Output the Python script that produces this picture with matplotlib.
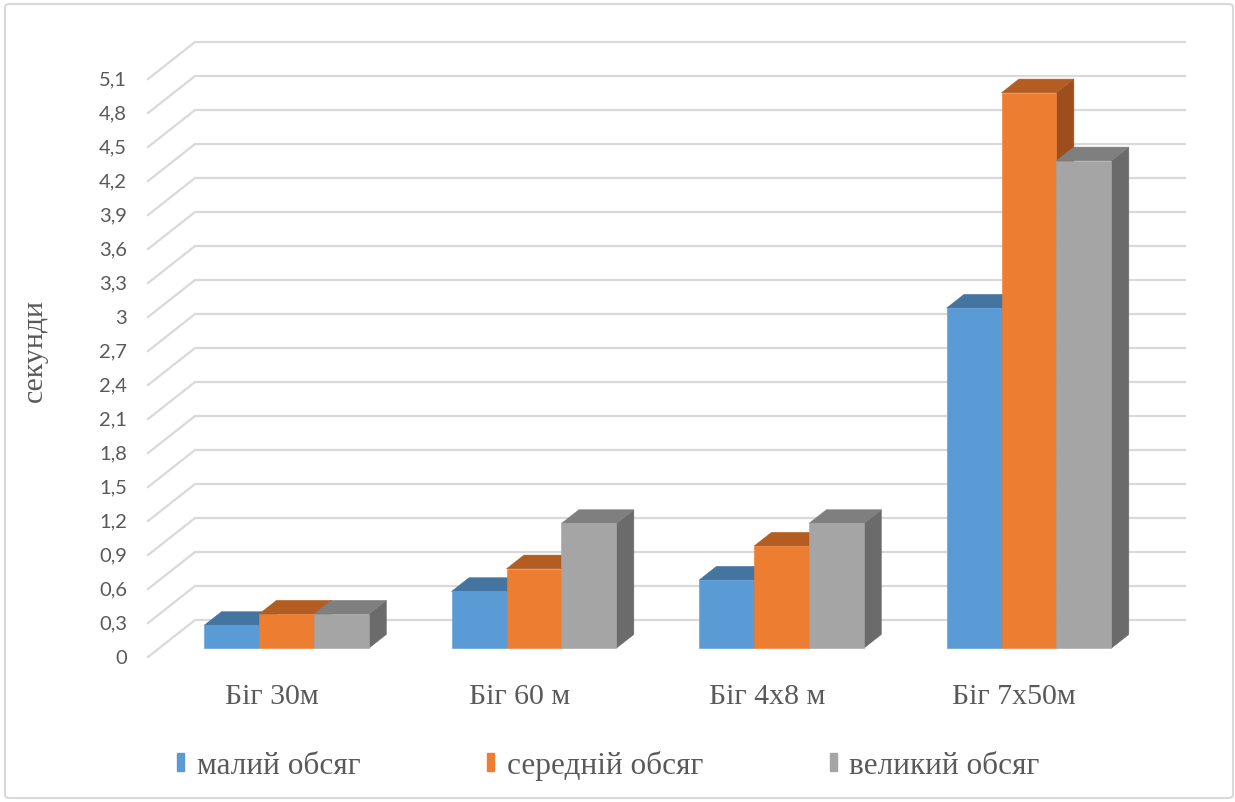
import numpy as np
import matplotlib.pyplot as plt
from matplotlib.patches import Polygon, FancyBboxPatch, Patch

categories = ["Біг 30м", "Біг 60 м", "Біг 4х8 м", "Біг 7х50м"]
series_names = ["малий обсяг", "середній обсяг", "великий обсяг"]
small = [0.2, 0.5, 0.6, 3.0]
medium = [0.3, 0.7, 0.9, 4.9]
large = [0.3, 1.1, 1.1, 4.3]
ticks = np.round(np.arange(0, 5.11, 0.3), 1)

# front / top / side shades for each series
front_colors = ["#5B9BD5", "#ED7D31", "#A5A5A5"]
top_colors = ["#4474A0", "#B45D22", "#7F7F7F"]
side_colors = ["#3A6690", "#9C4F1C", "#6B6B6B"]

TEXT = "#595959"
GRID = "#D9D9D9"
SERIF = "Liberation Serif"

# oblique depth offset (full depth) in data units
DX, DY = 0.19, 0.3265
Z0, Z1 = 0.24, 0.61
BAR_W = 0.222
BAR_SHIFT = 0.014


def proj(x, y, z):
    return x + z * DX, y + z * DY


def main() -> None:
    fig = plt.figure(figsize=(12.35, 8.03), dpi=100)
    ax = fig.add_axes([0, 0, 1, 1])
    ax.set_xlim(-1.098, 3.892)
    ax.set_ylim(-1.2794, 5.806)
    ax.axis("off")

    # walls: side diagonals and back gridlines
    left, right = -0.5, len(categories) - 0.5
    for t in ticks:
        x0, y0 = proj(left, t, 0)
        x1, y1 = proj(left, t, 1)
        x2, y2 = proj(right, t, 1)
        ax.plot([x0, x1, x2], [y0, y1, y2], color=GRID, lw=1.6, zorder=1,
                solid_joinstyle="miter")
        ax.text(left - 0.085, t, f"{t:g}".replace(".", ","), ha="right",
                va="center", fontsize=14.5, family="Lato", color=TEXT)

    values = [small, medium, large]
    for i in range(len(categories)):
        for j, vals in enumerate(values):
            v = vals[i]
            xa = i - 1.5 * BAR_W + j * BAR_W + BAR_SHIFT
            xb = xa + BAR_W
            front = [proj(xa, 0, Z0), proj(xb, 0, Z0), proj(xb, v, Z0), proj(xa, v, Z0)]
            top = [proj(xa, v, Z0), proj(xb, v, Z0), proj(xb, v, Z1), proj(xa, v, Z1)]
            side = [proj(xb, 0, Z0), proj(xb, 0, Z1), proj(xb, v, Z1), proj(xb, v, Z0)]
            for pts, c in ((side, side_colors[j]), (top, top_colors[j]),
                           (front, front_colors[j])):
                ax.add_patch(Polygon(pts, closed=True, facecolor=c, edgecolor=c,
                                     lw=0.4, zorder=3))

    for i, cat in enumerate(categories):
        ax.text(i, -0.34, cat, ha="center", va="center", fontsize=21.5,
                family=SERIF, color=TEXT)

    fig.text(0.028, 1 - 351 / 803, "секунди", rotation=90, ha="center",
             va="center", fontsize=21.5, family=SERIF, color=TEXT)

    handles = [Patch(facecolor=c, edgecolor=c) for c in front_colors]
    leg = fig.legend(handles, series_names, ncol=3, loc="center",
                     bbox_to_anchor=(0.4927, 1 - 766 / 803), frameon=False,
                     handlelength=0.23, handleheight=0.55, handletextpad=0.4,
                     columnspacing=4.05, prop={"family": SERIF, "size": 22.5})
    for txt in leg.get_texts():
        txt.set_color(TEXT)

    border = FancyBboxPatch((5 / 1235, 4 / 803), 1228 / 1235, 794 / 803,
                            boxstyle="round,pad=0,rounding_size=0.004",
                            transform=fig.transFigure, facecolor="none",
                            edgecolor=GRID, lw=1.5)
    fig.patches.append(border)

    fig.savefig("out.png", dpi=100)


if __name__ == "__main__":
    main()
